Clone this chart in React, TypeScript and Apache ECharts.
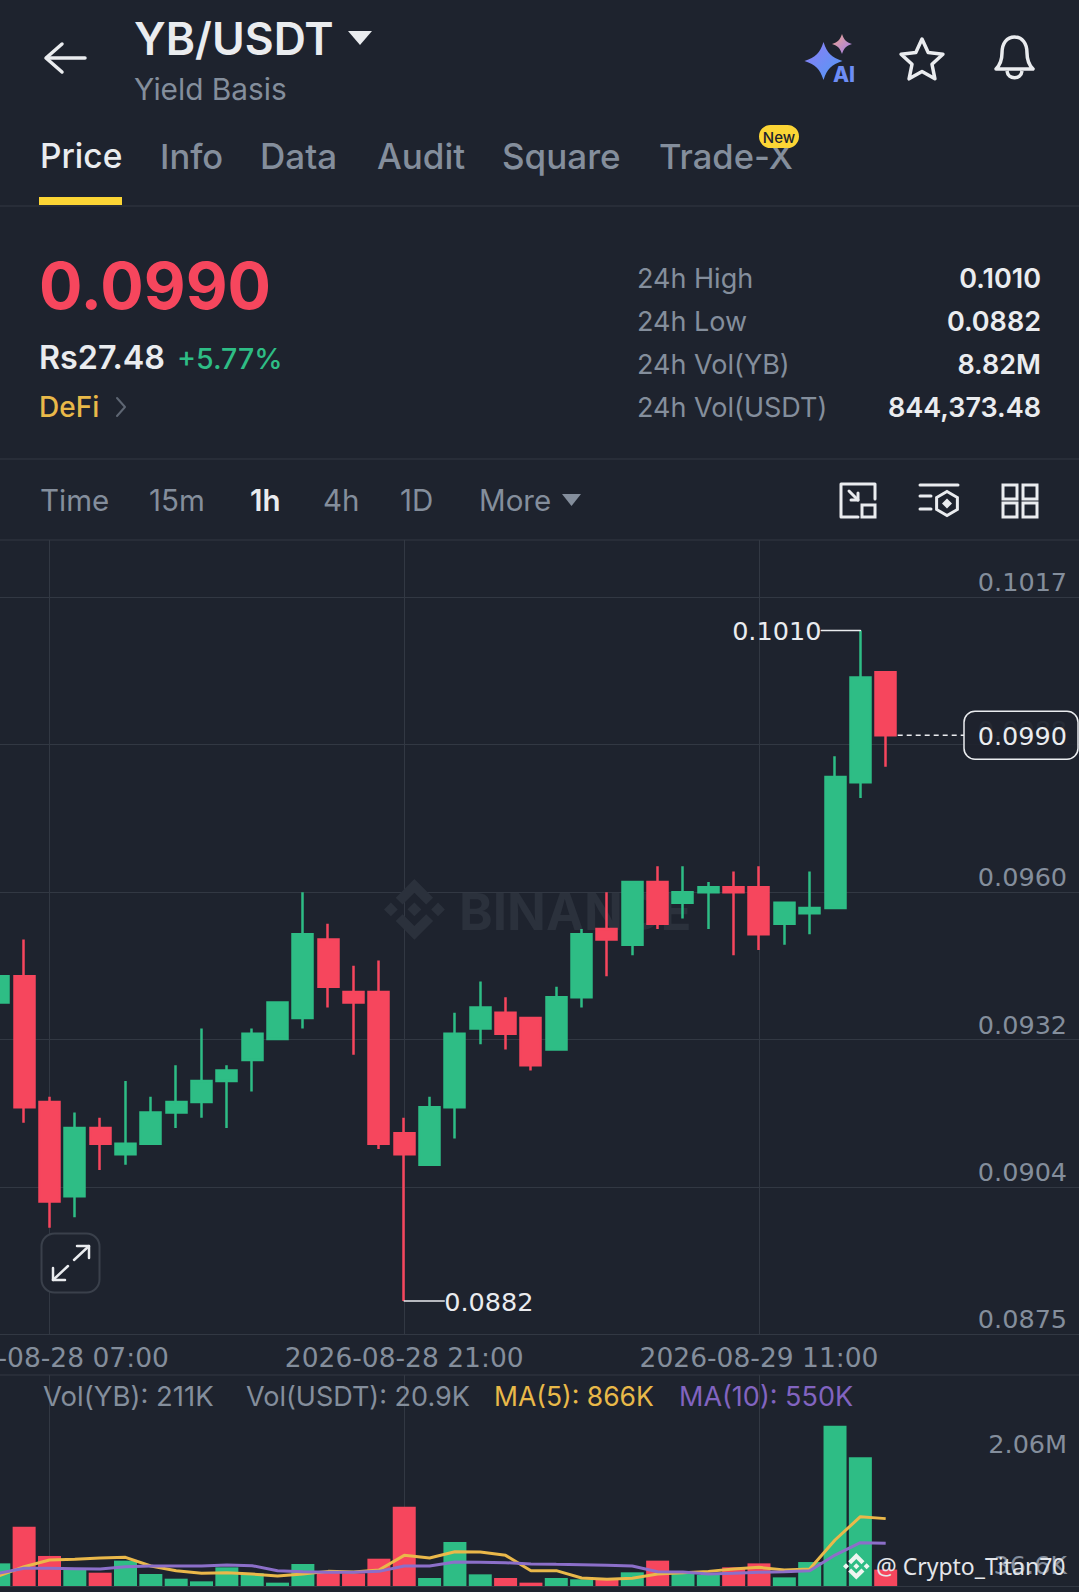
import React, { useEffect, useRef } from "react";
import * as echarts from "echarts";

const categories = [
  "2026-08-28 05:00","2026-08-28 06:00","2026-08-28 07:00","2026-08-28 08:00","2026-08-28 09:00","2026-08-28 10:00",
  "2026-08-28 11:00","2026-08-28 12:00","2026-08-28 13:00","2026-08-28 14:00","2026-08-28 15:00","2026-08-28 16:00",
  "2026-08-28 17:00","2026-08-28 18:00","2026-08-28 19:00","2026-08-28 20:00","2026-08-28 21:00","2026-08-28 22:00",
  "2026-08-28 23:00","2026-08-29 00:00","2026-08-29 01:00","2026-08-29 02:00","2026-08-29 03:00","2026-08-29 04:00",
  "2026-08-29 05:00","2026-08-29 06:00","2026-08-29 07:00","2026-08-29 08:00","2026-08-29 09:00","2026-08-29 10:00",
  "2026-08-29 11:00","2026-08-29 12:00","2026-08-29 13:00","2026-08-29 14:00","2026-08-29 15:00","2026-08-29 16:00",
  "2026-08-29 17:00","2026-08-29 18:00","2026-08-29 19:00","2026-08-29 20:00","2026-08-29 21:00","2026-08-29 22:00",
  "2026-08-29 23:00","2026-08-30 00:00",
];
const opens = [.0939,.0944,.0920,.0902,.0915,.0910,.0912,.0918,.0920,.0924,.0928,.0932,.0936,.0951,.0941,.0941,.0914,.0908,.0919,.0934,.0937,.0936,.0930,.0940,.0953,.0950,.0962,.0958,.0960,.0961,.0961,.0954,.0956,.0957,.0981,.1002];
const closes = [.0944,.0919,.0901,.0915,.0912,.0912,.0918,.0920,.0924,.0926,.0933,.0939,.0952,.0942,.0939,.0912,.0910,.0919,.0933,.0938,.0933,.0927,.0940,.0952,.0951,.0962,.0954,.0960,.0961,.0960,.0952,.0958,.0957,.0982,.1001,.0990];
const lows = [.0939,.0916,.0896,.0898,.0907,.0908,.0912,.0915,.0917,.0915,.0922,.0932,.0934,.0938,.0929,.0911,.0882,.0908,.0913,.0931,.0930,.0926,.0930,.0938,.0944,.0948,.0953,.0955,.0953,.0948,.0949,.0950,.0952,.0957,.0978,.0984];
const highs = [.0944,.0951,.0921,.0918,.0917,.0924,.0921,.0927,.0934,.0927,.0934,.0939,.0960,.0954,.0946,.0947,.0917,.0921,.0937,.0943,.0940,.0936,.0942,.0953,.0960,.0962,.0965,.0965,.0962,.0964,.0965,.0958,.0964,.0986,.1010,.1002];
const volumes = [291,763,386,214,171,326,154,94,60,240,163,43,283,188,163,351,1020,103,565,150,103,43,103,86,94,176,326,163,146,240,291,111,308,2060,1654,211];
const ma5 = [129,248,334,343,360,368,257,197,163,171,154,129,154,188,180,206,394,360,441,437,394,197,197,103,86,99,154,171,188,218,240,206,218,591,891,866];
const ma10 = [163,227,227,223,218,248,257,257,257,270,261,197,184,176,176,188,257,257,308,304,300,283,278,274,266,257,184,180,154,163,176,184,197,398,557,550];
const priceTicks = [.08757,.09038,.09319,.09601,.09882,.10163];
const priceTickLabels = ["0.0875","0.0904","0.0932","0.0960","0.0988","0.1017"];
const volumeTicks = [36.6,2060];
const volumeTickLabels = ["36.6K","2.06M"];
const timeframes = ["Time","15m","1h","4h","1D","More"];
const tabs = ["Price","Info","Data","Audit","Square","Trade-X"];
const statNames = ["24h High","24h Low","24h Vol(YB)","24h Vol(USDT)"];
const statValues = ["0.1010","0.0882","8.82M","844,373.48"];

const BG = "#1e232e";
const GRID = "#323843";
const GRAY = "#848e9c";
const WHITE = "#eaecef";
const GREEN = "#2ebd85";
const RED = "#f6465d";
const FONT = "Inter";
const NUM = '"DejaVu Sans"';

const LOGO = "M38.73 53.2l24.59-24.58 24.6 24.6 14.3-14.31L63.32 0 24.42 38.9 38.73 53.2zM0 63.31l14.3-14.31 14.31 14.31-14.31 14.3zM38.73 73.41l24.59 24.59 24.6-24.6 14.31 14.29-38.9 38.91-38.91-38.88-.02-.02zM98.28 63.31l14.3-14.31 14.31 14.31-14.31 14.3zM77.83 63.3L63.32 48.78 52.59 59.51l-1.24 1.23-2.54 2.54 14.51 14.5 14.51-14.47z";
const SPARK = "M0 -10 C2 -4 4 -2 10 0 C4 2 2 4 0 10 C-2 4 -4 2 -10 0 C-4 -2 -2 -4 0 -10 Z";
const BELL = "M996 69 C1000 65 1002 60 1002 53 C1002 43 1007 37 1014.5 37 C1022 37 1027 43 1027 53 C1027 60 1029 65 1033 69 Z M1007 71 C1008 80 1021 80 1022 71";

echarts.graphic.registerShape("binanceLogo", echarts.graphic.extendPath(LOGO, {}) as any);
echarts.graphic.registerShape("sparkle", echarts.graphic.extendPath(SPARK, {}) as any);
echarts.graphic.registerShape("bellIcon", echarts.graphic.extendPath(BELL, {}) as any);

const T = (text: string, x: number, y: number, size: number, fill: string, weight = 400, align = "left", family = FONT) => ({
  type: "text", z: 90,
  style: { text, x, y, fill, textAlign: align, textVerticalAlign: "middle", font: `${weight} ${size}px ${family}` },
});
const L = (x1: number, y1: number, x2: number, y2: number, stroke: string, lineWidth = 1, extra: any = {}) => ({
  type: "line", z: 90, shape: { x1, y1, x2, y2 }, style: { stroke, lineWidth, lineCap: "round", ...extra },
});
const P = (points: number[][], stroke: string, lineWidth = 3) => ({
  type: "polyline", z: 90, shape: { points }, style: { stroke, lineWidth, fill: "none", lineCap: "round", lineJoin: "round" },
});
const R = (x: number, y: number, width: number, height: number, style: any, r = 0) => ({
  type: "rect", z: 90, shape: { x, y, width, height, r }, style,
});

function chrome() {
  const starPts: number[][] = [];
  for (let i = 0; i < 10; i++) {
    const rad = i % 2 ? 10.5 : 22;
    const a = -Math.PI / 2 + (i * Math.PI) / 5;
    starPts.push([922 + rad * Math.cos(a), 61 + rad * Math.sin(a)]);
  }
  const hex: number[][] = [];
  for (let i = 0; i < 6; i++) {
    const a = -Math.PI / 2 + (i * Math.PI) / 3;
    hex.push([947 + 12 * Math.cos(a), 503.5 + 12 * Math.sin(a)]);
  }
  const tabX = [40, 160, 260, 377, 502, 659];
  const tabSize = [33.5, 34.5, 35, 35, 35, 34.5];
  const tfX = [40, 149, 250, 323, 400, 479];
  const statY = [278, 321, 364, 407];
  const blueGrad = new echarts.graphic.LinearGradient(0, 0, 1, 1, [{ offset: 0, color: "#8f7cf5" }, { offset: 1, color: "#4f9bf5" }]);
  const pinkGrad = new echarts.graphic.LinearGradient(0, 0, 1, 1, [{ offset: 0, color: "#f2a78a" }, { offset: 1, color: "#9d7cf0" }]);
  return [
    // header
    P([[62, 44], [46, 58], [62, 72]], WHITE, 3.5),
    L(47, 58, 85, 58, WHITE, 3.5),
    T("YB/USDT", 134, 39, 44.5, WHITE, 600),
    { type: "polygon", z: 90, shape: { points: [[348, 31], [372, 31], [360, 45]] }, style: { fill: WHITE } },
    T("Yield Basis", 134, 89, 29.8, GRAY),
    { type: "sparkle", z: 90, x: 823.5, y: 61, scaleX: 1.9, scaleY: 1.9, style: { fill: blueGrad } },
    { type: "sparkle", z: 90, x: 842, y: 44, scaleX: 1, scaleY: 1, style: { fill: pinkGrad } },
    T("AI", 844, 74, 21, "#6d8df5", 800, "center"),
    { type: "polygon", z: 90, shape: { points: starPts }, style: { fill: "none", stroke: WHITE, lineWidth: 3.5, lineJoin: "round" } },
    { type: "bellIcon", z: 90, x: 0, y: 0, style: { fill: "none", stroke: WHITE, lineWidth: 3.5, lineJoin: "round" } },
    // tabs
    ...tabs.map((t, i) => T(t, tabX[i], 156, tabSize[i], i === 0 ? WHITE : GRAY, 500)),
    R(759, 125, 40, 23, { fill: "#fcd535" }, 11.5),
    T("New", 779, 137, 15, "#1e232e", 500, "center"),
    R(39, 197, 83, 8, { fill: "#fcd535" }),
    L(0, 206, 1079, 206, GRID, 1),
    // price block
    T("0.0990", 39, 286, 64.5, RED, 700),
    T("Rs27.48", 39, 357, 32.3, WHITE, 600),
    T("+5.77%", 177, 358, 28.5, GREEN, 500),
    T("DeFi", 39, 407, 28, "#e9b949", 500),
    P([[117, 398], [125, 407], [117, 416]], "#5e6673", 2),
    ...statNames.map((t, i) => T(t, 637, statY[i], 27, GRAY)),
    ...statValues.map((t, i) => T(t, 1041, statY[i], 27, WHITE, 600, "right")),
    L(0, 459, 1079, 459, GRID, 1),
    // timeframes
    ...timeframes.map((t, i) => T(t, tfX[i], 500, 29.5, i === 2 ? WHITE : GRAY, i === 2 ? 600 : 400)),
    { type: "polygon", z: 90, shape: { points: [[562, 494], [581, 494], [571.5, 506]] }, style: { fill: GRAY } },
    P([[858, 517], [841, 517], [841, 484], [875, 484], [875, 499]], WHITE, 3),
    R(862, 505, 13, 12, { fill: "none", stroke: WHITE, lineWidth: 3 }),
    L(849, 491, 858, 500, WHITE, 3),
    P([[858, 493], [858, 500], [851, 500]], WHITE, 3),
    L(920, 485, 958, 485, WHITE, 3),
    L(920, 496, 931, 496, WHITE, 3),
    L(920, 509, 931, 509, WHITE, 3),
    { type: "polygon", z: 90, shape: { points: hex }, style: { fill: "none", stroke: WHITE, lineWidth: 3 } },
    { type: "polygon", z: 90, shape: { points: [[947, 498.5], [952, 503.5], [947, 508.5], [942, 503.5]] }, style: { fill: WHITE } },
    R(1003, 485, 14, 14, { fill: "none", stroke: WHITE, lineWidth: 3 }),
    R(1023, 485, 14, 14, { fill: "none", stroke: WHITE, lineWidth: 3 }),
    R(1003, 503, 14, 14, { fill: "none", stroke: WHITE, lineWidth: 3 }),
    R(1023, 503, 14, 14, { fill: "none", stroke: WHITE, lineWidth: 3 }),
    L(0, 540, 1079, 540, GRID, 1),
    // watermark
    { type: "binanceLogo", z: 1, x: 384, y: 879, scaleX: 0.48, scaleY: 0.48, style: { fill: "#2b313c" } },
    { type: "text", z: 1, style: { text: "BINANCE", x: 459, y: 911, fill: "#2b313c", textVerticalAlign: "middle", font: `700 51px ${FONT}` } },
    // expand button
    R(41.5, 1233.5, 58, 59, { fill: BG, stroke: "#3a404b", lineWidth: 2 }, 13),
    L(74, 1260, 89, 1246, WHITE, 2.5),
    P([[77, 1246], [89, 1246], [89, 1258]], WHITE, 2.5),
    L(68, 1266, 53, 1280, WHITE, 2.5),
    P([[53, 1268], [53, 1280], [65, 1280]], WHITE, 2.5),
    // volume block
    L(0, 1375, 1079, 1375, GRID, 1),
    T("Vol(YB): 211K", 43, 1396, 27.5, GRAY),
    T("Vol(USDT): 20.9K", 246, 1396, 27, GRAY),
    T("MA(5): 866K", 494, 1396, 26.5, "#e9b949"),
    T("MA(10): 550K", 679, 1396, 27, "#8264c0"),
    // user watermark
    { type: "binanceLogo", z: 95, x: 843, y: 1553, scaleX: 0.21, scaleY: 0.21, style: { fill: "#eef5f0" } },
    { type: "text", z: 95, style: { text: "@ Crypto_Titan70", x: 876, y: 1566, fill: "#e4e6ea", textVerticalAlign: "middle", font: `400 23px "Noto Sans"` } },
  ];
}

export default function App() {
  const ref = useRef<HTMLDivElement>(null);
  useEffect(() => {
    document.body.style.margin = "0";
    document.body.style.background = BG;
    const chart = echarts.init(ref.current!, undefined, { renderer: "svg", width: 1079, height: 1592 });
    const band = 25.34;
    const left = -13.87;
    const width = band * categories.length;
    const marks = (_: number, v: string) => ["2026-08-28 07:00", "2026-08-28 21:00", "2026-08-29 11:00"].includes(v);
    const tickFont = { color: GRAY, fontSize: 25.5, fontFamily: "DejaVu Sans" };
    const vLines = { show: true, interval: marks, alignWithLabel: true, lineStyle: { color: GRID, width: 1 } };
    chart.setOption({
      animation: false,
      backgroundColor: BG,
      grid: [
        { left, width, top: 540, height: 794, outerBoundsMode: "none", containLabel: false },
        { left, width, top: 1375, height: 211, outerBoundsMode: "none", containLabel: false },
      ],
      xAxis: [
        {
          type: "category", gridIndex: 0, data: categories, boundaryGap: true,
          axisLine: { show: false }, axisTick: { show: false, alignWithLabel: true, interval: marks },
          splitLine: vLines,
          axisLabel: { interval: marks, ...tickFont, fontSize: 26.5, margin: 10, hideOverlap: false },
        },
        {
          type: "category", gridIndex: 1, data: categories, boundaryGap: true,
          axisLine: { show: true, lineStyle: { color: GRID, width: 1 } }, axisTick: { show: false, alignWithLabel: true, interval: marks },
          splitLine: vLines,
          axisLabel: { show: false, interval: marks },
        },
      ],
      yAxis: [
        {
          type: "value", gridIndex: 0, position: "right", min: 0.08757, max: 0.102726,
          axisLine: { show: false },
          axisTick: { show: false, customValues: priceTicks },
          splitLine: { show: true, lineStyle: { color: GRID, width: 1 } },
          axisLabel: {
            customValues: priceTicks, inside: true, margin: 34, align: "right", verticalAlign: "bottom", lineHeight: 30,
            ...tickFont,
            formatter: (v: number) => priceTickLabels[priceTicks.indexOf(v)],
          },
        },
        {
          type: "value", gridIndex: 1, position: "right", min: 0, max: 2712,
          axisLine: { show: false },
          axisTick: { show: false, customValues: volumeTicks },
          splitLine: { show: false },
          axisLabel: {
            customValues: volumeTicks, inside: true, margin: 34, align: "right", lineHeight: 36,
            verticalAlign: "bottom", verticalAlignMinLabel: "bottom", verticalAlignMaxLabel: "top",
            ...tickFont,
            formatter: (v: number) => volumeTickLabels[volumeTicks.indexOf(v)],
          },
        },
      ],
      series: [
        {
          type: "candlestick", xAxisIndex: 0, yAxisIndex: 0, barWidth: 20.5,
          itemStyle: { color: GREEN, color0: RED, borderColor: GREEN, borderColor0: RED, borderWidth: 2.5 },
          data: opens.map((o, i) => [o, closes[i], lows[i], highs[i]]),
        },
        {
          type: "bar", xAxisIndex: 1, yAxisIndex: 1, barWidth: 23,
          data: volumes.map((v, i) => ({ value: v, itemStyle: { color: closes[i] >= opens[i] ? GREEN : RED } })),
        },
        { type: "line", xAxisIndex: 1, yAxisIndex: 1, data: ma5, showSymbol: false, lineStyle: { color: "#eab84a", width: 3 }, z: 3 },
        { type: "line", xAxisIndex: 1, yAxisIndex: 1, data: ma10, showSymbol: false, lineStyle: { color: "#8c6fc9", width: 3 }, z: 3 },
      ],
    });

    const px = (i: number, v: number) => chart.convertToPixel({ xAxisIndex: 0, yAxisIndex: 0 }, [i, v]) as number[];
    const last = opens.length - 1;
    const hiIdx = highs.indexOf(Math.max(...highs));
    const loIdx = lows.indexOf(Math.min(...lows));
    const hi = px(hiIdx, highs[hiIdx]);
    const lo = px(loIdx, lows[loIdx]);
    const cur = px(last, closes[last]);
    const annotations = [
      L(hi[0], hi[1], hi[0] - 39, hi[1], WHITE, 1.5),
      T(highs[hiIdx].toFixed(4), hi[0] - 39, hi[1] + 1, 25.5, WHITE, 400, "right", NUM),
      L(lo[0], lo[1], lo[0] + 40, lo[1], WHITE, 1.5),
      T(lows[loIdx].toFixed(4), lo[0] + 40, lo[1] + 1, 25.5, WHITE, 400, "left", NUM),
      L(cur[0] + 12, cur[1], 964, cur[1], WHITE, 1.5, { lineDash: [5, 4], lineCap: "butt" }),
      R(964, cur[1] - 24, 114, 48, { fill: "rgba(30,35,46,0.92)", stroke: WHITE, lineWidth: 1.5 }, 11),
      T(closes[last].toFixed(4), 1067, cur[1] + 1, 25.5, WHITE, 400, "right", NUM),
    ];
    chart.setOption({ graphic: [...chrome(), ...annotations] });
    return () => chart.dispose();
  }, []);
  return <div ref={ref} style={{ position: "absolute", left: 0, top: 0, width: 1079, height: 1592, overflow: "hidden" }} />;
}
